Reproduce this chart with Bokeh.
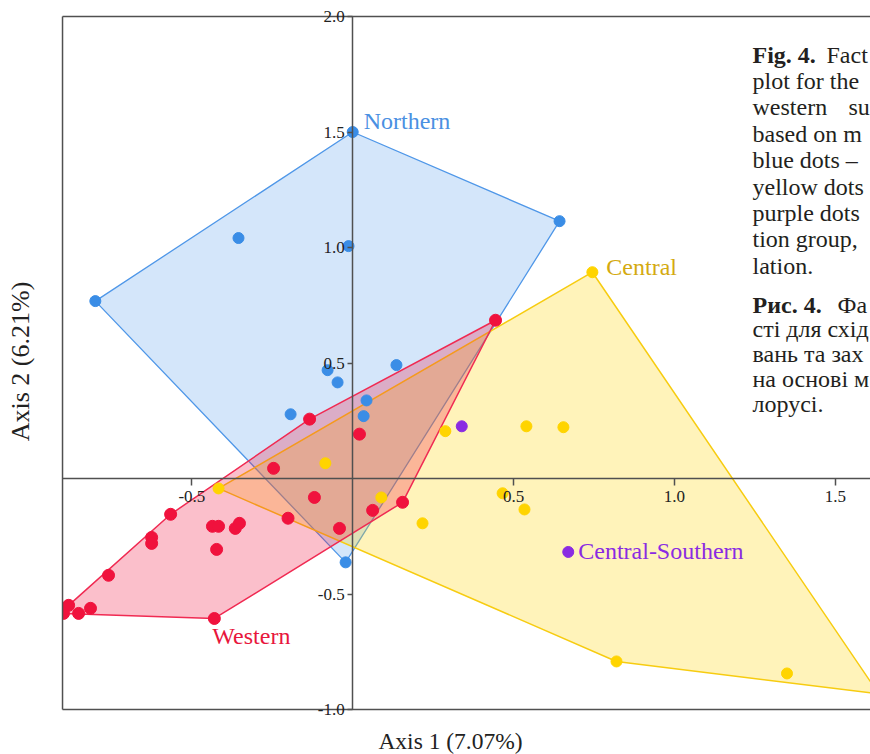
import math
from bokeh.plotting import figure
from bokeh.models import (LinearAxis, FixedTicker, PrintfTickFormatter, Label,
                          ColumnDataSource, Range1d)
from bokeh.embed import file_html
from bokeh.resources import INLINE
from bokeh.core.properties import value

# ---------------- data ----------------
NORTHERN_X = [0.000, 0.643, -0.800, -0.355, -0.013, -0.078, 0.136, -0.047, 0.043, 0.034, -0.193, -0.022]
NORTHERN_Y = [1.500, 1.114, 0.768, 1.041, 1.006, 0.469, 0.491, 0.416, 0.338, 0.270, 0.278, -0.363]

WESTERN_X = [0.444, -0.134, 0.021, -0.246, -0.119, -0.201, -0.041, 0.062, 0.155, -0.566, -0.625, -0.625,
             -0.436, -0.417, -0.365, -0.352, -0.423, -0.759, -0.883, -0.899, -0.852, -0.815, -0.430]
WESTERN_Y = [0.685, 0.257, 0.192, 0.044, -0.082, -0.172, -0.216, -0.138, -0.103, -0.155, -0.255, -0.281,
             -0.207, -0.207, -0.216, -0.194, -0.307, -0.419, -0.549, -0.584, -0.584, -0.562, -0.606]

CENTRAL_X = [0.745, -0.417, -0.085, 0.288, 0.540, 0.655, 0.089, 0.466, 0.534, 0.217, 0.820, 1.350, 1.635]
CENTRAL_Y = [0.893, -0.043, 0.066, 0.205, 0.226, 0.222, -0.082, -0.064, -0.134, -0.194, -0.792, -0.844, -0.932]

CSOUTH_X = [0.339, 0.670]
CSOUTH_Y = [0.226, -0.318]

X_TICKS = [-0.5, 0.5, 1.0, 1.5]
Y_TICKS = [-1.0, -0.5, 0.5, 1.0, 1.5, 2.0]

X_TITLE = "Axis 1 (7.07%)"
Y_TITLE = "Axis 2 (6.21%)"

CAPTION_EN = [("Fig. 4.", "Fact"), ("", "plot for the"), ("", "western"), ("", "based on m"),
              ("", "blue dots \u2013"), ("", "yellow dots"), ("", "purple dots"),
              ("", "tion group,"), ("", "lation.")]
CAPTION_EN_EXTRA = "su"
CAPTION_UK = [("\u0420\u0438\u0441. 4.", "\u0424\u0430"),
              ("", "\u0441\u0442\u0456 \u0434\u043b\u044f \u0441\u0445\u0456\u0434"),
              ("", "\u0432\u0430\u043d\u044c \u0442\u0430 \u0437\u0430\u0445"),
              ("", "\u043d\u0430 \u043e\u0441\u043d\u043e\u0432\u0456 \u043c"),
              ("", "\u043b\u043e\u0440\u0443\u0441\u0456.")]

# ---------------- layout: the frame covers the whole canvas ----------------
W, H = 870, 754
X0_PX, X_UNIT = 352.2, 321.7      # screen x of x=0, pixels per unit
Y0_PX, Y_UNIT = 478.0, 231.0      # screen y of y=0, pixels per unit
X_LO, X_HI = -X0_PX / X_UNIT, (W - X0_PX) / X_UNIT
Y_LO, Y_HI = -(H - Y0_PX) / Y_UNIT, Y0_PX / Y_UNIT
BOX_LEFT, BOX_BOTTOM, BOX_TOP = -0.902, -1.0, 2.0
TXT_SHIFT = 8   # empirical correction of the alphabetic baseline

def dx(px):
    return X_LO + px / W * (X_HI - X_LO)

def dy(py):
    return Y_HI - py / H * (Y_HI - Y_LO)

SERIF = "Liberation Serif"
AX = "#505050"

def hull(xs, ys):
    pts = sorted(set(zip(xs, ys)))
    def cross(o, a, b):
        return (a[0]-o[0])*(b[1]-o[1]) - (a[1]-o[1])*(b[0]-o[0])
    lower, upper = [], []
    for pt in pts:
        while len(lower) >= 2 and cross(lower[-2], lower[-1], pt) <= 0:
            lower.pop()
        lower.append(pt)
    for pt in reversed(pts):
        while len(upper) >= 2 and cross(upper[-2], upper[-1], pt) <= 0:
            upper.pop()
        upper.append(pt)
    h = lower[:-1] + upper[:-1]
    return [q[0] for q in h], [q[1] for q in h]

p = figure(width=W, height=H, x_range=Range1d(X_LO, X_HI), y_range=Range1d(Y_LO, Y_HI),
           x_axis_type=None, y_axis_type=None, toolbar_location=None, output_backend="svg",
           min_border_left=0, min_border_right=0, min_border_top=0, min_border_bottom=0)
p.outline_line_color = None
p.background_fill_color = "white"
p.border_fill_color = "white"

BLUE, BLUE_L, BLUE_T = "#3a8de6", "#4f97e8", "#4a90e2"
YEL, YEL_L, YEL_T = "#ffd400", "#f7cc10", "#d4aa10"
RED, RED_L, RED_T = "#f0123d", "#f02a52", "#e8163c"
PUR = "#8a2be2"

hx, hy = hull(NORTHERN_X, NORTHERN_Y)
p.patch(hx, hy, fill_color=BLUE, fill_alpha=0.22, line_color=BLUE_L, line_width=1.3)
hx, hy = hull(CENTRAL_X, CENTRAL_Y)
p.patch(hx, hy, fill_color=YEL, fill_alpha=0.27, line_color=YEL_L, line_width=1.5)
hx, hy = hull(WESTERN_X, WESTERN_Y)
p.patch(hx, hy, fill_color=RED, fill_alpha=0.27, line_color=RED_L, line_width=1.5)

p.scatter(NORTHERN_X, NORTHERN_Y, size=11, color=BLUE)
p.scatter(WESTERN_X, WESTERN_Y, size=12, color=RED)
p.scatter(CENTRAL_X, CENTRAL_Y, size=11, color=YEL)
p.scatter(CSOUTH_X, CSOUTH_Y, size=11, color=PUR)

# white mask left of the plot box, then the box lines
p.quad(left=X_LO, right=BOX_LEFT, bottom=Y_LO, top=Y_HI, fill_color="white", line_color=None)
p.segment(x0=[BOX_LEFT, BOX_LEFT, BOX_LEFT], y0=[BOX_BOTTOM, BOX_TOP, BOX_BOTTOM],
          x1=[BOX_LEFT, X_HI, X_HI], y1=[BOX_TOP, BOX_TOP, BOX_BOTTOM],
          line_color=AX, line_width=1.5)

# crossing axes through the origin
xa = LinearAxis(fixed_location=0, ticker=FixedTicker(ticks=X_TICKS, minor_ticks=[]),
                formatter=PrintfTickFormatter(format="%.1f"), bounds=(BOX_LEFT, X_HI))
ya = LinearAxis(fixed_location=0, ticker=FixedTicker(ticks=Y_TICKS, minor_ticks=[]),
                formatter=PrintfTickFormatter(format="%.1f"), bounds=(BOX_BOTTOM, BOX_TOP))
for ax, tout, so in [(xa, 7, 5), (ya, 5, 3)]:
    ax.axis_line_color = AX
    ax.axis_line_width = 1.5
    ax.major_tick_line_color = AX
    ax.major_tick_line_width = 1.5
    ax.major_tick_in = 0
    ax.major_tick_out = tout
    ax.minor_tick_line_color = None
    ax.major_label_text_font = SERIF
    ax.major_label_text_font_size = "17px"
    ax.major_label_text_color = "#222222"
    ax.major_label_standoff = so
p.add_layout(xa, "below")
p.add_layout(ya, "left")

# axis titles
p.add_layout(Label(x=dx(450), y=dy(748 - 7.7), text=X_TITLE, text_align="center",
                   text_baseline="alphabetic", text_font=SERIF, text_font_size="23.5px",
                   text_color="#222222"))
p.add_layout(Label(x=dx(29 - 8.7), y=dy(361), text=Y_TITLE, angle=math.pi / 2, text_align="center",
                   text_baseline="alphabetic", text_font=SERIF, text_font_size="26px",
                   text_color="#222222"))

# group labels anchored on a member point
lab = dict(text_font=SERIF, text_font_size="24px", text_baseline="alphabetic")
p.add_layout(Label(x=NORTHERN_X[0], y=NORTHERN_Y[0], x_offset=11, y_offset=11, text="Northern",
                   text_color=BLUE_T, **lab))
p.add_layout(Label(x=CENTRAL_X[0], y=CENTRAL_Y[0], x_offset=14, y_offset=5, text="Central",
                   text_color=YEL_T, **lab))
p.add_layout(Label(x=CSOUTH_X[1], y=CSOUTH_Y[1], x_offset=10, y_offset=1, text="Central-Southern",
                   text_color=PUR, **lab))
p.add_layout(Label(x=WESTERN_X[-1], y=WESTERN_Y[-1], x_offset=-2, y_offset=-18, text="Western",
                   text_color=RED_T, **lab))

# caption (text glyphs)
bx, by, bt, rx, ry, rt, ro = [], [], [], [], [], [], []
cx = dx(752)
for i, (b, r) in enumerate(CAPTION_EN):
    yy = dy(62 + i * 26.4 - TXT_SHIFT)
    if b:
        bx.append(cx); by.append(yy); bt.append(b)
    rx.append(cx); ry.append(yy); rt.append(r); ro.append(74 if b else 0)
rx.append(cx); ry.append(dy(62 + 2 * 26.4 - TXT_SHIFT)); rt.append(CAPTION_EN_EXTRA); ro.append(96)
for i, (b, r) in enumerate(CAPTION_UK):
    yy = dy(312 + i * 24.8 - TXT_SHIFT)
    if b:
        bx.append(cx); by.append(yy); bt.append(b)
    rx.append(cx); ry.append(yy); rt.append(r); ro.append(85 if b else 0)

p.text(x="x", y="y", text="t", source=ColumnDataSource(dict(x=bx, y=by, t=bt)),
       text_font=value(SERIF), text_font_style="bold", text_font_size=value("24px"),
       text_color="#231f20", text_baseline="alphabetic", text_align="left")
p.text(x="x", y="y", text="t", x_offset="o", source=ColumnDataSource(dict(x=rx, y=ry, t=rt, o=ro)),
       text_font=value(SERIF), text_font_size=value("24px"),
       text_color="#231f20", text_baseline="alphabetic", text_align="left")

open("out.html", "w").write(file_html(p, INLINE))
